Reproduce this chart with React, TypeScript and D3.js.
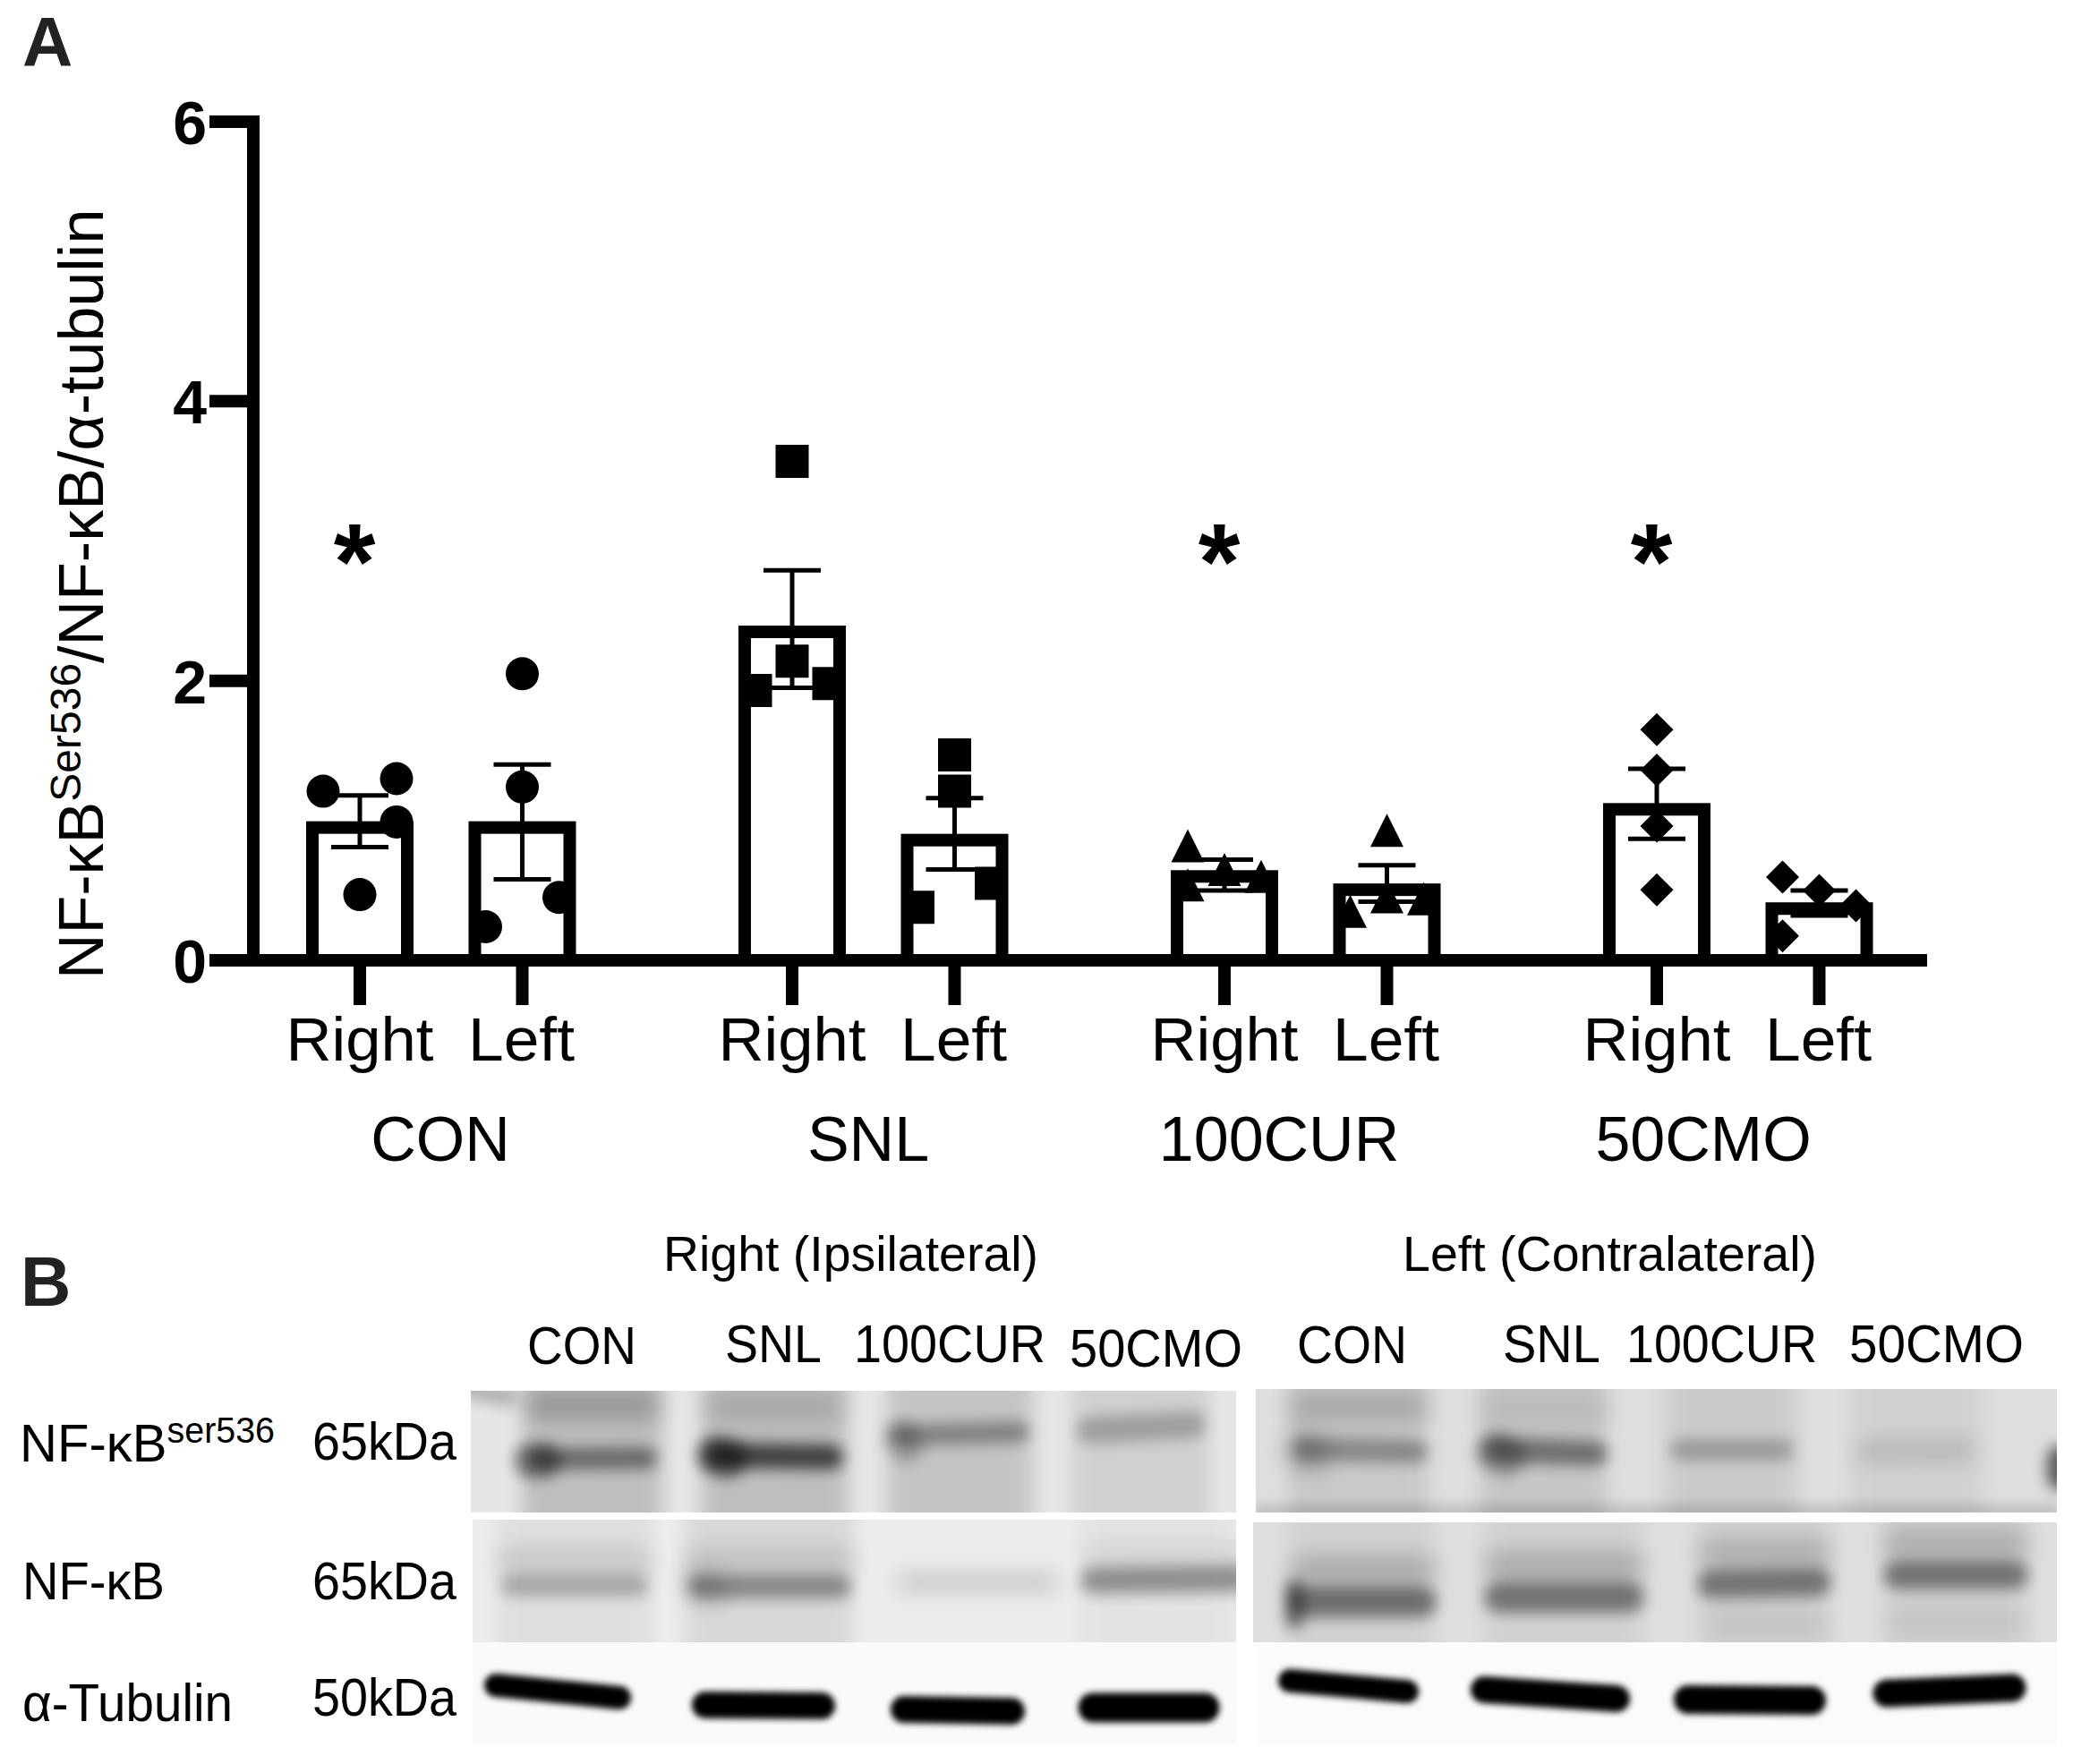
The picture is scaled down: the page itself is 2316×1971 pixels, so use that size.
import React from "react";
import * as d3 from "d3";

const groups = ["CON", "SNL", "100CUR", "50CMO"];
const sides = ["Right", "Left"];
const yTicks = [0, 2, 4, 6];
const barMeans = [0.95, 0.95, 2.35, 0.86, 0.6, 0.505, 1.08, 0.37];
const errorUpper = [1.18, 1.4, 2.79, 1.16, 0.72, 0.68, 1.37, 0.5];
const errorLower = [0.81, 0.58, 1.95, 0.65, 0.5, 0.42, 0.87, 0.32];
const pointValues = [
  [1.21, 1.3, 0.99, 0.47],
  [2.05, 1.24, 0.45, 0.24],
  [3.57, 2.14, 1.93, 1.98],
  [1.47, 1.21, 0.55, 0.38],
  [0.82, 0.65, 0.6, 0.54],
  [0.93, 0.455, 0.44, 0.35],
  [1.65, 1.36, 0.96, 0.505],
  [0.595, 0.5, 0.39, 0.175],
];
const pointColumns = [
  [-1, 1, 1, 0],
  [0, 0, 1, -1],
  [0, 0, -1, 1],
  [0, 0, 1, -1],
  [-1, 0, 1, -1],
  [0, 0, 1, -1],
  [0, 0, 0, 0],
  [-1, 0, 1, -1],
];
const starBars = [0, 4, 6];

const y = d3.scaleLinear().domain([0, 6]).range([1073, 136]);
const xGroup = d3.scaleBand<string>().domain(groups).range([311, 2243]).paddingInner(0).paddingOuter(0);
const xSide = d3.scalePoint<string>().domain(sides).range([91, 272.5]);
const barX = (i: number) => xGroup(groups[Math.floor(i / 2)])! + xSide(sides[i % 2])!;

const circleType = { draw(c: any, s: number) { const r = Math.sqrt(s) / 2; c.moveTo(r, 0); c.arc(0, 0, r, 0, 2 * Math.PI); } };
const squareType = { draw(c: any, s: number) { const r = Math.sqrt(s) / 2; c.rect(-r, -r, 2 * r, 2 * r); } };
const triangleType = { draw(c: any, s: number) { const r = Math.sqrt(s) / 2; c.moveTo(0, -r); c.lineTo(r, r); c.lineTo(-r, r); c.closePath(); } };
const diamondType = { draw(c: any, s: number) { const r = Math.sqrt(s) / 2; c.moveTo(0, -r); c.lineTo(r, 0); c.lineTo(0, r); c.lineTo(-r, 0); c.closePath(); } };
const groupSymbols = [circleType, squareType, triangleType, diamondType];

type Band = [number, number, number, number, number, number];
// Blot panels: [x, y, w, h], background grey, lane smears, bands [x1, y1, x2, y2, thickness, density]
const blotPanels: { box: number[]; bg: string; lanes: number[][]; bands: Band[] }[] = [
  {
    box: [526, 1554, 855, 136], bg: "#e6e6e6",
    lanes: [[584, 740, 0.17], [784, 947, 0.17], [991, 1154, 0.14], [1197, 1352, 0.09]],
    bands: [
      [602, 1630, 722, 1629, 24, 0.45], [594, 1632, 606, 1632, 40, 0.42],
      [802, 1626, 928, 1628, 28, 0.66], [800, 1626, 812, 1630, 44, 0.48],
      [1008, 1604, 1138, 1600, 24, 0.34], [1006, 1606, 1012, 1616, 38, 0.22],
      [1218, 1598, 1332, 1592, 30, 0.24],
      [602, 1570, 722, 1570, 34, 0.2], [802, 1572, 928, 1572, 30, 0.12],
      [520, 1550, 566, 1560, 24, 0.22],
    ],
  },
  {
    box: [1403, 1552, 895, 138], bg: "#dedede",
    lanes: [[1440, 1595, 0.09], [1654, 1794, 0.1], [1860, 2008, 0.08], [2067, 2215, 0.05]],
    bands: [
      [1458, 1619, 1582, 1622, 26, 0.33], [1454, 1620, 1465, 1626, 40, 0.2],
      [1672, 1620, 1782, 1624, 28, 0.44], [1670, 1622, 1682, 1628, 44, 0.28],
      [1878, 1620, 1992, 1620, 24, 0.24], [2084, 1622, 2196, 1620, 22, 0.14],
      [1455, 1572, 1580, 1572, 34, 0.16], [1665, 1575, 1785, 1575, 34, 0.06],
      [2302, 1630, 2302, 1650, 30, 0.6], [1403, 1690, 2298, 1690, 10, 0.25],
    ],
  },
  {
    box: [528, 1698, 853, 137], bg: "#ececec",
    lanes: [[555, 729, 0.05], [765, 954, 0.08], [1204, 1381, 0.03]],
    bands: [
      [572, 1772, 712, 1772, 24, 0.24], [572, 1745, 712, 1745, 34, 0.1],
      [782, 1773, 938, 1773, 26, 0.36], [780, 1770, 795, 1775, 36, 0.15], [782, 1745, 938, 1745, 34, 0.1],
      [1012, 1768, 1172, 1768, 20, 0.17],
      [1222, 1766, 1385, 1764, 30, 0.36], [1222, 1738, 1385, 1738, 26, 0.07],
    ],
  },
  {
    box: [1400, 1701, 898, 134], bg: "#dedede",
    lanes: [[1440, 1602, 0.05], [1658, 1835, 0.05], [1897, 2045, 0.05], [2104, 2266, 0.05]],
    bands: [
      [1458, 1790, 1588, 1790, 34, 0.47], [1446, 1775, 1446, 1810, 20, 0.5], [1458, 1755, 1588, 1755, 34, 0.18],
      [1675, 1785, 1820, 1785, 34, 0.44], [1675, 1750, 1820, 1750, 34, 0.18],
      [1912, 1770, 2030, 1768, 32, 0.44], [1912, 1735, 2030, 1735, 32, 0.17],
      [2120, 1760, 2250, 1760, 32, 0.44], [2120, 1725, 2250, 1725, 34, 0.17],
      [1918, 1815, 2030, 1815, 24, 0.08], [2120, 1812, 2250, 1812, 24, 0.08],
    ],
  },
  {
    box: [528, 1835, 854, 115], bg: "#fafafa",
    lanes: [],
    bands: [
      [554, 1883, 692, 1897, 26, 1], [788, 1905, 918, 1906, 30, 1],
      [1010, 1910, 1130, 1912, 30, 1], [1221, 1908, 1346, 1908, 33, 1],
    ],
  },
  {
    box: [1403, 1838, 895, 112], bg: "#fbfbfb",
    lanes: [],
    bands: [
      [1441, 1878, 1572, 1890, 26, 1], [1658, 1888, 1806, 1898, 30, 1],
      [1886, 1899, 2024, 1900, 32, 1], [2108, 1892, 2248, 1886, 31, 1],
    ],
  },
];

// Blot labels: text, left, right, baseline
const laneLabels: [string, number, number, number][] = [
  ["Right (Ipsilateral)", 741, 1160, 1420],
  ["Left (Contralateral)", 1567, 2030, 1420],
  ["CON", 589, 711, 1524],
  ["SNL", 810, 918, 1522],
  ["100CUR", 954, 1168, 1522],
  ["50CMO", 1195, 1388, 1527],
  ["CON", 1449, 1572, 1523],
  ["SNL", 1679, 1788, 1522],
  ["100CUR", 1817, 2030, 1522],
  ["50CMO", 2066, 2261, 1522],
  ["65kDa", 349, 510, 1631],
  ["65kDa", 349, 510, 1787],
  ["50kDa", 349, 510, 1917],
  ["NF-κB", 25, 184, 1787],
];
const F = "'Liberation Sans', Arial, sans-serif";
const S = 14;
const blurBox = { filterUnits: "userSpaceOnUse" as const, x: 0, y: 0, width: 2316, height: 1971 };

export default function App() {
  const sym = d3.symbol();
  return (
    <svg width={2316} height={1971} style={{ position: "absolute", left: 0, top: 0, background: "#fff" }} fontFamily={F}>
      <defs>
        <filter id="soft" {...blurBox}><feGaussianBlur stdDeviation="12" /></filter>
        <filter id="mid" {...blurBox}><feGaussianBlur stdDeviation="8" /></filter>
        <filter id="lane" {...blurBox}><feGaussianBlur stdDeviation="10" /></filter>
        <filter id="tight" {...blurBox}><feGaussianBlur stdDeviation="3.5" /></filter>
        {blotPanels.map((p, i) => (
          <clipPath id={`clip${i}`} key={i}><rect x={p.box[0]} y={p.box[1]} width={p.box[2]} height={p.box[3]} /></clipPath>
        ))}
      </defs>

      {/* Panel letters */}
      <text x={25} y={74} fontSize={78} fontWeight="bold" fill="#222">A</text>
      <text x={23} y={1459} fontSize={78} fontWeight="bold" fill="#222">B</text>

      {/* Bars */}
      {barMeans.map((m, i) => (
        <rect key={i} x={barX(i) - 53} y={y(m)} width={106} height={y(0) - y(m)} fill="#fff" stroke="#000" strokeWidth={S} />
      ))}
      {/* Error bars */}
      {barMeans.map((_, i) => (
        <g key={i} stroke="#000" strokeWidth={5}>
          <line x1={barX(i)} x2={barX(i)} y1={y(errorUpper[i])} y2={y(errorLower[i])} />
          <line x1={barX(i) - 32} x2={barX(i) + 32} y1={y(errorUpper[i])} y2={y(errorUpper[i])} />
          <line x1={barX(i) - 32} x2={barX(i) + 32} y1={y(errorLower[i])} y2={y(errorLower[i])} />
        </g>
      ))}
      {/* Points */}
      {pointValues.map((vals, i) =>
        vals.map((v, j) => (
          <path key={`${i}-${j}`} transform={`translate(${barX(i) + pointColumns[i][j] * 41},${y(v)})`}
            d={sym.type(groupSymbols[Math.floor(i / 2)] as any).size(37 * 37)()!} fill="#000" />
        ))
      )}

      {/* Axes */}
      <line x1={283} x2={283} y1={y(6) - 7} y2={y(0) + 7} stroke="#000" strokeWidth={S} />
      <line x1={234} x2={2153} y1={y(0)} y2={y(0)} stroke="#000" strokeWidth={S} />
      {yTicks.map((t) => (
        <g key={t}>
          <line x1={234} x2={283} y1={y(t)} y2={y(t)} stroke="#000" strokeWidth={S} />
          <text x={231} y={y(t) + 25} textAnchor="end" fontSize={68} fontWeight="bold">{t}</text>
        </g>
      ))}
      {barMeans.map((_, i) => (
        <g key={i}>
          <line x1={barX(i)} x2={barX(i)} y1={y(0)} y2={1123} stroke="#000" strokeWidth={S} />
          <text x={barX(i) + (i % 2 ? -1 : 0)} y={1185} textAnchor="middle" fontSize={69} textLength={i % 2 ? 119 : 165} lengthAdjust="spacingAndGlyphs">{sides[i % 2]}</text>
        </g>
      ))}
      {groups.map((g, i) => (
        <text key={g} x={[492, 970, 1429, 1903][i]} y={1297} textAnchor="middle" fontSize={70}>{g}</text>
      ))}
      {starBars.map((i) => (
        <text key={i} x={barX(i) - 6} y={669} textAnchor="middle" fontSize={120} fontWeight="bold">*</text>
      ))}

      {/* Y title */}
      <text transform="translate(115,1094) rotate(-90)" fontSize={70}>
        NF-κB<tspan fontSize={48} dy={-25}>Ser536</tspan><tspan dy={25}>/NF-κB/α-tubulin</tspan>
      </text>

      {/* Blots */}
      {blotPanels.map((p, i) => (
        <g key={i} clipPath={`url(#clip${i})`}>
          <rect x={p.box[0]} y={p.box[1]} width={p.box[2]} height={p.box[3]} fill={p.bg} />
          {p.lanes.map((l, j) => (
            <rect key={j} x={l[0]} y={p.box[1] - 30} width={l[1] - l[0]} height={p.box[3] + 60} fill="#000" opacity={l[2]} filter="url(#lane)" />
          ))}
          {p.bands.map((b, j) => (
            <line key={j} x1={b[0]} y1={b[1]} x2={b[2]} y2={b[3]} stroke="#000" strokeWidth={b[4]} strokeLinecap="round"
              opacity={b[5]} filter={i >= 4 ? "url(#tight)" : b[5] < 0.22 ? "url(#soft)" : "url(#mid)"} />
          ))}
        </g>
      ))}

      {/* Blot labels */}
      {laneLabels.map(([t, a, b, yy], i) => (
        <text key={i} x={a} y={yy} fontSize={i < 2 ? 56 : 59} textLength={b - a} lengthAdjust="spacingAndGlyphs">{t}</text>
      ))}
      <text x={22} y={1633} fontSize={59} textLength={285} lengthAdjust="spacingAndGlyphs">
        NF-κB<tspan fontSize={40} dy={-21}>ser536</tspan>
      </text>
      <text x={25} y={1923} fontSize={59} textLength={235} lengthAdjust="spacingAndGlyphs">α-Tubulin</text>
    </svg>
  );
}
